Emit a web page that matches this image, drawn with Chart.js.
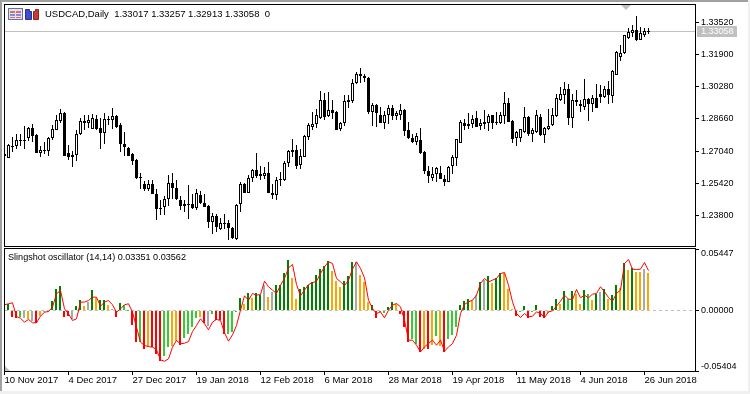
<!DOCTYPE html>
<html>
<head>
<meta charset="utf-8">
<title>USDCAD Daily</title>
<script src="https://cdn.jsdelivr.net/npm/chart.js@4/dist/chart.umd.min.js"></script>
<style>
    html, body { margin: 0; padding: 0; background: #fff; }
    #page { position: relative; width: 750px; height: 394px; overflow: hidden; background: #fff; font-family: "Liberation Sans", sans-serif; color: #000; }
    .frame { position: absolute; border: 1px solid #000; box-sizing: border-box; }
    canvas { position: absolute; left: 0; }
    .label { position: absolute; font-size: 9.5px; line-height: 12px; white-space: pre; }
    #priceTag { position: absolute; left: 697px; top: 26px; width: 40px; height: 11px; background: #c0c0c0; color: #fff; font-size: 9px; line-height: 11px; padding-left: 4px; box-sizing: border-box; }
    svg { position: absolute; }
</style>
</head>
<body>
<div id="page">
    <div style="position:absolute;left:0;top:0;width:750px;height:2px;background:#a0a0a0"></div>
    <div style="position:absolute;left:0;top:0;width:2px;height:391px;background:#a0a0a0"></div>
    <div style="position:absolute;left:748px;top:0;width:2px;height:391px;background:#f0f0f0"></div>
    <div style="position:absolute;left:0;top:391px;width:750px;height:3px;background:#f0f0f0"></div>
    <div class="frame" style="left:4px;top:4px;width:692px;height:243px"></div>
    <div class="frame" style="left:4px;top:248px;width:692px;height:124px"></div>
    <canvas id="priceChart" style="top:0"></canvas>
    <canvas id="oscChart" style="top:247px"></canvas>
    <svg style="left:8px;top:8px" width="33" height="13">
        <rect x="0.5" y="0.5" width="14" height="11" fill="#dfe3f5" stroke="#6a6fa0"/>
        <rect x="2" y="3" width="5" height="2" fill="#e86a5a"/><rect x="8" y="3" width="5" height="2" fill="#e86a5a"/>
        <rect x="2" y="6" width="5" height="2" fill="#7f8fd8"/><rect x="8" y="6" width="5" height="2" fill="#7f8fd8"/>
        <rect x="2" y="9" width="5" height="1" fill="#e86a5a"/><rect x="8" y="9" width="5" height="1" fill="#e86a5a"/>
        <path d="M17.5 1.5h4v2h2v8h-6z" fill="#3a4fd0" stroke="#28328c"/>
        <path d="M25.5 3.5h2v-2h3v10h-5z" fill="#c83a32" stroke="#8c2820"/>
    </svg>
    <svg style="left:621px;top:5px" width="11" height="6"><path d="M0 0h10l-5 5z" fill="#c0c0c0"/></svg>
    <svg style="left:5px;top:366px" width="6" height="5"><path d="M0 0l5 5h-5z" fill="#c0c0c0"/></svg>
    <div class="label" style="left:45px;top:8px">USDCAD,Daily  1.33017 1.33257 1.32913 1.33058  0</div>
    <div class="label" style="left:8px;top:251px;font-size:9.1px">Slingshot oscillator (14,14) 0.03351 0.03562</div>
    <div id="priceTag">1.33058</div>
</div>
<script>
// Chandelles USDCAD Daily
const opens = [
    1.2691,1.2670,1.2732,1.2732,1.2762,1.2762,1.2772,1.2822,1.2784,1.2697,
    1.2712,1.2705,1.2772,1.2809,1.2856,1.2898,1.2697,1.2675,1.2687,1.2789,
    1.2854,1.2846,1.2814,1.2864,1.2819,1.2795,1.2868,1.2859,1.2881,1.2834,
    1.2742,1.2722,1.2688,1.2658,1.2574,1.2537,1.2516,1.2541,1.2490,1.2420,
    1.2423,1.2465,1.2546,1.2521,1.2460,1.2428,1.2440,1.2440,1.2418,1.2482,
    1.2445,1.2427,1.2347,1.2378,1.2314,1.2345,1.2340,1.2319,1.2264,1.2440,
    1.2541,1.2493,1.2571,1.2608,1.2587,1.2577,1.2596,1.2495,1.2482,1.2559,
    1.2561,1.2645,1.2708,1.2708,1.2634,1.2675,1.2775,1.2825,1.2838,1.2871,
    1.2963,1.2879,1.2913,1.2899,1.2815,1.2843,1.2960,1.2956,1.3047,1.3094,
    1.3084,1.3074,1.2901,1.2935,1.2884,1.2846,1.2886,1.2923,1.2881,1.2888,
    1.2913,1.2809,1.2772,1.2750,1.2762,1.2702,1.2603,1.2569,1.2591,1.2596,
    1.2566,1.2551,1.2629,1.2671,1.2747,1.2846,1.2829,1.2839,1.2873,1.2831,
    1.2848,1.2846,1.2884,1.2848,1.2843,1.2881,1.2948,1.2856,1.2770,1.2770,
    1.2800,1.2876,1.2789,1.2800,1.2876,1.2787,1.2814,1.2834,1.2879,1.2960,
    1.2988,1.3015,1.2873,1.2960,1.2943,1.2926,1.2965,1.2943,1.2973,1.2993,
    1.2976,1.3015,1.2981,1.3089,1.3177,1.3198,1.3273,1.3300,1.3312,1.3265,
    1.3287,1.33017
];
const highs = [
    1.2696,1.2741,1.2775,1.2789,1.2789,1.2829,1.2825,1.2839,1.2789,1.2728,
    1.2750,1.2775,1.2834,1.2884,1.2914,1.2901,1.2733,1.2705,1.2809,1.2871,
    1.2884,1.2884,1.2893,1.2884,1.2869,1.2898,1.2881,1.2923,1.2884,1.2844,
    1.2800,1.2725,1.2697,1.2662,1.2594,1.2554,1.2561,1.2557,1.2516,1.2457,
    1.2477,1.2582,1.2596,1.2561,1.2477,1.2460,1.2532,1.2487,1.2511,1.2502,
    1.2490,1.2432,1.2393,1.2390,1.2370,1.2386,1.2356,1.2322,1.2440,1.2549,
    1.2543,1.2582,1.2616,1.2695,1.2628,1.2624,1.2649,1.2541,1.2574,1.2599,
    1.2653,1.2708,1.2764,1.2733,1.2713,1.2784,1.2843,1.2899,1.2918,1.3005,
    1.2996,1.3001,1.2963,1.2904,1.2851,1.2985,1.2985,1.3069,1.3102,1.3124,
    1.3094,1.3077,1.2948,1.2943,1.2926,1.2904,1.2935,1.2935,1.2906,1.2943,
    1.2918,1.2848,1.2792,1.2795,1.2822,1.2703,1.2628,1.2624,1.2624,1.2628,
    1.2582,1.2629,1.2683,1.2767,1.2859,1.2864,1.2898,1.2884,1.2904,1.2868,
    1.2913,1.2893,1.2884,1.2901,1.2901,1.3001,1.2973,1.2863,1.2805,1.2817,
    1.2926,1.2879,1.2822,1.2913,1.2893,1.2825,1.2918,1.2923,1.2990,1.3027,
    1.3052,1.3044,1.2993,1.3010,1.2963,1.3069,1.2973,1.2985,1.3040,1.3035,
    1.3030,1.3055,1.3111,1.3208,1.3240,1.3290,1.3323,1.3337,1.3384,1.3328,
    1.3325,1.33257
];
const lows = [
    1.2678,1.2669,1.2700,1.2715,1.2728,1.2717,1.2755,1.2750,1.2695,1.2675,
    1.2692,1.2680,1.2762,1.2809,1.2844,1.2680,1.2658,1.2624,1.2654,1.2784,
    1.2809,1.2819,1.2814,1.2809,1.2717,1.2738,1.2834,1.2817,1.2822,1.2700,
    1.2678,1.2678,1.2633,1.2562,1.2516,1.2504,1.2504,1.2487,1.2360,1.2381,
    1.2381,1.2427,1.2465,1.2457,1.2406,1.2398,1.2361,1.2415,1.2406,1.2440,
    1.2421,1.2317,1.2289,1.2297,1.2309,1.2314,1.2256,1.2264,1.2259,1.2398,
    1.2493,1.2493,1.2549,1.2571,1.2561,1.2566,1.2493,1.2465,1.2457,1.2529,
    1.2554,1.2624,1.2675,1.2613,1.2616,1.2673,1.2762,1.2809,1.2822,1.2868,
    1.2859,1.2876,1.2868,1.2809,1.2805,1.2829,1.2923,1.2946,1.3044,1.3049,
    1.3052,1.2893,1.2830,1.2825,1.2843,1.2815,1.2839,1.2859,1.2863,1.2863,
    1.2779,1.2767,1.2747,1.2737,1.2692,1.2591,1.2544,1.2554,1.2549,1.2562,
    1.2529,1.2549,1.2587,1.2629,1.2745,1.2809,1.2817,1.2822,1.2825,1.2809,
    1.2817,1.2804,1.2817,1.2834,1.2840,1.2839,1.2848,1.2745,1.2730,1.2750,
    1.2797,1.2779,1.2750,1.2797,1.2779,1.2745,1.2809,1.2829,1.2876,1.2956,
    1.2943,1.2834,1.2822,1.2930,1.2901,1.2909,1.2855,1.2901,1.2921,1.2946,
    1.2973,1.2940,1.2946,1.3085,1.3156,1.3195,1.3270,1.3278,1.3258,1.3261,
    1.3278,1.32913
];
const closes = [
    1.2680,1.2733,1.2729,1.2762,1.2755,1.2755,1.2822,1.2779,1.2697,1.2712,
    1.2705,1.2772,1.2817,1.2863,1.2898,1.2680,1.2675,1.2687,1.2792,1.2854,
    1.2846,1.2859,1.2869,1.2817,1.2795,1.2868,1.2864,1.2879,1.2825,1.2742,
    1.2725,1.2680,1.2654,1.2569,1.2569,1.2512,1.2541,1.2490,1.2415,1.2413,
    1.2463,1.2546,1.2519,1.2462,1.2428,1.2440,1.2437,1.2418,1.2495,1.2443,
    1.2423,1.2347,1.2378,1.2322,1.2345,1.2340,1.2319,1.2269,1.2432,1.2541,
    1.2493,1.2571,1.2608,1.2577,1.2579,1.2596,1.2493,1.2482,1.2561,1.2562,
    1.2646,1.2703,1.2700,1.2629,1.2678,1.2779,1.2834,1.2838,1.2888,1.2963,
    1.2876,1.2913,1.2896,1.2812,1.2843,1.2955,1.2951,1.3049,1.3094,1.3082,
    1.3072,1.2901,1.2935,1.2896,1.2843,1.2888,1.2923,1.2881,1.2898,1.2913,
    1.2805,1.2770,1.2750,1.2782,1.2695,1.2604,1.2579,1.2591,1.2618,1.2564,
    1.2549,1.2624,1.2675,1.2767,1.2852,1.2830,1.2840,1.2868,1.2825,1.2843,
    1.2841,1.2881,1.2846,1.2843,1.2884,1.2948,1.2851,1.2767,1.2800,1.2814,
    1.2878,1.2789,1.2809,1.2888,1.2784,1.2820,1.2829,1.2884,1.2973,1.2993,
    1.3015,1.2873,1.2960,1.2951,1.2930,1.2968,1.2943,1.2971,1.2923,1.2976,
    1.3015,1.2985,1.3105,1.3203,1.3200,1.3287,1.3303,1.3312,1.3261,1.3298,
    1.3307,1.33058
];

// Oscillateur Slingshot (14,14)
const oscBars = [
    .0045,.0060,-.0060,-.0069,-.0054,-.0069,-.0080,-.0098,-.0113,-.0051,
    -.0006,-.0003,.0089,.0188,.0218,-.0054,-.0048,-.0080,.0036,.0098,
    .0036,.0080,.0179,.0113,.0098,.0098,.0051,.0015,-.0060,.0066,
    .0051,.0006,-.0134,-.0283,-.0277,-.0343,-.0322,-.0328,-.0387,-.0447,
    -.0402,-.0328,-.0313,-.0274,-.0304,-.0247,-.0209,-.0149,-.0071,-.0060,
    -.0110,-.0140,-.0030,-.0089,-.0089,-.0208,-.0208,-.0194,-.0005,.0110,
    .0054,.0152,.0113,.0152,.0137,.0232,.0122,.0167,.0226,.0232,
    .0339,.0450,.0292,.0101,.0191,.0212,.0232,.0256,.0316,.0375,
    .0396,.0441,.0352,.0262,.0212,.0262,.0310,.0435,.0429,.0316,
    .0256,.0072,.0048,-.0066,-.0006,-.0021,.0033,.0077,.0060,-.0030,
    -.0146,-.0280,-.0259,-.0301,-.0375,-.0340,-.0346,-.0310,-.0226,-.0319,
    -.0370,-.0256,-.0221,-.0146,.0048,.0083,.0101,.0092,.0137,.0256,
    .0271,.0307,.0247,.0286,.0339,.0331,.0191,.0012,-.0048,-.0012,
    .0039,-.0071,-.0012,.0048,-.0057,-.0063,-.0021,.0039,.0101,.0057,
    .0173,.0107,.0173,.0143,.0057,.0182,.0143,.0092,.0143,.0167,
    .0191,.0107,.0137,.0226,.0197,.0426,.0360,.0381,.0345,.0345,
    .0369,.03351
];
// G hausse, L hausse faible, O correction, R baisse, A neutre
const oscStates = (
    'GGRRLAOARO' + 'AAGGGRRAGG' + 'OAGOGGOARG' + 'LLRRLRORRR' +
    'LLOORLLLLO' + 'RALRRRLLLG' + 'OGOGGAOAGG' + 'GGOOGGGGGG' +
    'GGOOOGGGAO' + 'OOGRLLGGOR' + 'RRLLRORO' + 'LO' + 'RLLLGGGOAG' +
    'AGOGGOOORL' + 'GRLGRROGGO' + 'GLGOOGLOGA' + 'GOGGOGOGOO' + 'AO'
).split('');
const oscLine = [
    .0051,.0060,.0069,-.0054,-.0069,-.0104,-.0080,-.0110,-.0110,-.0051,
    -.0015,-.0009,.0030,.0149,.0179,.0015,-.0030,-.0089,-.0075,.0075,
    .0075,.0089,.0119,.0119,.0039,.0075,.0089,.0051,-.0015,.0015,
    .0051,.0060,-.0015,-.0149,-.0283,-.0313,-.0322,-.0328,-.0349,-.0441,
    -.0453,-.0432,-.0328,-.0268,-.0298,-.0292,-.0277,-.0188,-.0134,-.0074,
    -.0119,-.0172,-.0104,-.0080,-.0089,-.0199,-.0274,-.0217,-.0134,.0002,
    .0131,.0092,.0152,.0137,.0143,.0262,.0212,.0182,.0152,.0226,
    .0286,.0381,.0411,.0232,.0131,.0182,.0232,.0247,.0262,.0331,
    .0390,.0435,.0420,.0286,.0256,.0221,.0271,.0370,.0435,.0375,
    .0292,.0092,.0018,-.0027,-.0012,-.0066,.0003,.0048,.0063,.0033,
    -.0086,-.0265,-.0265,-.0310,-.0370,-.0325,-.0295,-.0265,-.0310,-.0265,
    -.0364,-.0325,-.0295,-.0221,-.0027,.0054,.0077,.0092,.0137,.0241,
    .0286,.0256,.0271,.0286,.0330,.0339,.0226,.0077,-.0027,-.0063,
    -.0027,-.0057,-.0051,-.0012,-.0027,-.0063,-.0012,-.0003,.0039,.0083,
    .0137,.0101,.0098,.0188,.0113,.0137,.0113,.0146,.0152,.0212,
    .0167,.0116,.0083,.0152,.0182,.0420,.0456,.0369,.0366,.0369,
    .0429,.03562
];

// Axes
const dateLabels = ['10 Nov 2017','4 Dec 2017','27 Dec 2017','19 Jan 2018','12 Feb 2018','6 Mar 2018',
    '28 Mar 2018','19 Apr 2018','11 May 2018','4 Jun 2018','26 Jun 2018'];
const dateStep = 16;
const priceTicks = [1.3352, 1.319, 1.3028, 1.2866, 1.2704, 1.2542, 1.238];
const oscTicks = [0.05447, 0, -0.05404];

const OSC_COLORS = { G: '#008000', L: '#32cd32', O: '#ffa500', R: '#ff0000', A: '#a9a9a9' };
const FONT = { family: '"Liberation Sans", sans-serif', size: 9.5 };
const lastClose = closes[closes.length - 1];

// Taille du canvas
function setCanvas(id, w, h) {
    const c = document.getElementById(id);
    c.width = w;
    c.height = h;
    c.style.width = w + 'px';
    c.style.height = h + 'px';
    return c;
}

// Bords des barres sur des pixels entiers, comme dans le terminal
const snapBars = {
    id: 'snapBars',
    afterDatasetsUpdate(chart) {
        chart.data.datasets.forEach((ds, i) => {
            if (ds.type === 'line') return;
            chart.getDatasetMeta(i).data.forEach(bar => {
                let y = Math.round(bar.y);
                let base = Math.round(bar.base);
                if (y === base) base = y + 1;
                bar.y = y;
                bar.base = base;
                if (bar.width % 2 === 0) bar.x = Math.floor(bar.x);
            });
        });
    }
};

// 4 px par barre, de x=5 a x=695
const xRange = { min: 0.125, max: 172.625 };
const xScale = (showLabels) => ({
    type: 'linear',
    min: xRange.min,
    max: xRange.max,
    offset: false,
    border: { display: false },
    grid: { display: showLabels, drawOnChartArea: false, offset: false, tickLength: 4, tickColor: '#000', tickWidth: 1 },
    afterBuildTicks(scale) {
        scale.ticks = dateLabels.map((d, i) => ({ value: i * dateStep }));
    },
    ticks: {
        display: showLabels,
        autoSkip: false,
        maxRotation: 0,
        align: 'start',
        padding: 0,
        color: '#000',
        font: FONT,
        callback: (v) => dateLabels[Math.round(v / dateStep)]
    },
    afterFit(scale) {
        scale.height = showLabels ? 23 : 0;
        scale.paddingLeft = 0;
        scale.paddingRight = 0;
    }
});

function yScale(min, max, tickValues, labelFn, lineHeight) {
    return {
        type: 'linear',
        position: 'right',
        min: min,
        max: max,
        border: { display: false },
        grid: { drawOnChartArea: false, tickLength: 4, tickColor: '#000', tickWidth: 1 },
        afterBuildTicks(scale) {
            scale.ticks = tickValues.map(v => ({ value: v }));
        },
        ticks: {
            autoSkip: false,
            padding: 2,
            color: '#000',
            font: { family: FONT.family, size: 9, lineHeight: lineHeight },
            callback: labelFn
        },
        afterFit(scale) {
            scale.width = 55;
            scale.paddingTop = 0;
            scale.paddingBottom = 0;
        }
    };
}

const commonOptions = {
    responsive: false,
    animation: false,
    events: [],
    plugins: { legend: { display: false }, tooltip: { enabled: false }, title: { display: false } }
};

const barDefaults = {
    grouped: false,
    barPercentage: 0.9,
    categoryPercentage: 1,
    inflateAmount: 0,
    borderSkipped: false
};

// Graphique des chandelles
new Chart(setCanvas('priceChart', 750, 247), {
    type: 'bar',
    plugins: [snapBars],
    data: {
        datasets: [
            {
                type: 'line',
                order: 3,
                data: [{ x: xRange.min, y: lastClose }, { x: xRange.max, y: lastClose }],
                borderColor: '#c0c0c0',
                borderWidth: 1,
                pointRadius: 0
            },
            {
                ...barDefaults,
                order: 2,
                maxBarThickness: 1,
                data: lows.map((l, i) => ({ x: i, y: [l, highs[i]] })),
                backgroundColor: '#000'
            },
            {
                ...barDefaults,
                order: 1,
                maxBarThickness: 3,
                data: opens.map((o, i) => ({ x: i, y: [o, closes[i]] })),
                backgroundColor: (ctx) => closes[ctx.dataIndex] >= opens[ctx.dataIndex] ? '#fff' : '#000',
                borderColor: '#000',
                borderWidth: 1
            }
        ]
    },
    options: {
        ...commonOptions,
        layout: { autoPadding: false, padding: { left: 5, right: 0, top: 5, bottom: 1 } },
        scales: { x: xScale(false), y: yScale(1.22268, 1.3439, priceTicks, (v) => v.toFixed(5), 1.2) }
    }
});

// Graphique de l'oscillateur
// les libelles extremes restent a l'interieur du panneau
const oscLabel = (v) => {
    const txt = v.toFixed(5);
    if (v === oscTicks[0]) return ['', txt];
    if (v === oscTicks[2]) return [txt, ''];
    return txt;
};

new Chart(setCanvas('oscChart', 750, 147), {
    type: 'bar',
    plugins: [snapBars],
    data: {
        datasets: [
            {
                type: 'line',
                order: 3,
                data: [{ x: xRange.min, y: 0 }, { x: xRange.max, y: 0 }],
                borderColor: '#c0c0c0',
                borderWidth: 1,
                borderDash: [3, 3],
                pointRadius: 0
            },
            {
                ...barDefaults,
                order: 2,
                maxBarThickness: 2,
                data: oscBars.map((v, i) => ({ x: i, y: v })),
                backgroundColor: (ctx) => OSC_COLORS[oscStates[ctx.dataIndex]]
            },
            {
                type: 'line',
                order: 1,
                data: oscLine.map((v, i) => ({ x: i, y: v })),
                borderColor: '#ff0000',
                borderWidth: 1,
                pointRadius: 0,
                tension: 0
            }
        ]
    },
    options: {
        ...commonOptions,
        layout: { autoPadding: false, padding: { left: 5, right: 0, top: 2, bottom: 0 } },
        scales: { x: xScale(true), y: yScale(-0.05404, 0.05492, oscTicks, oscLabel, 0.95) }
    }
});
</script>
</body>
</html>
